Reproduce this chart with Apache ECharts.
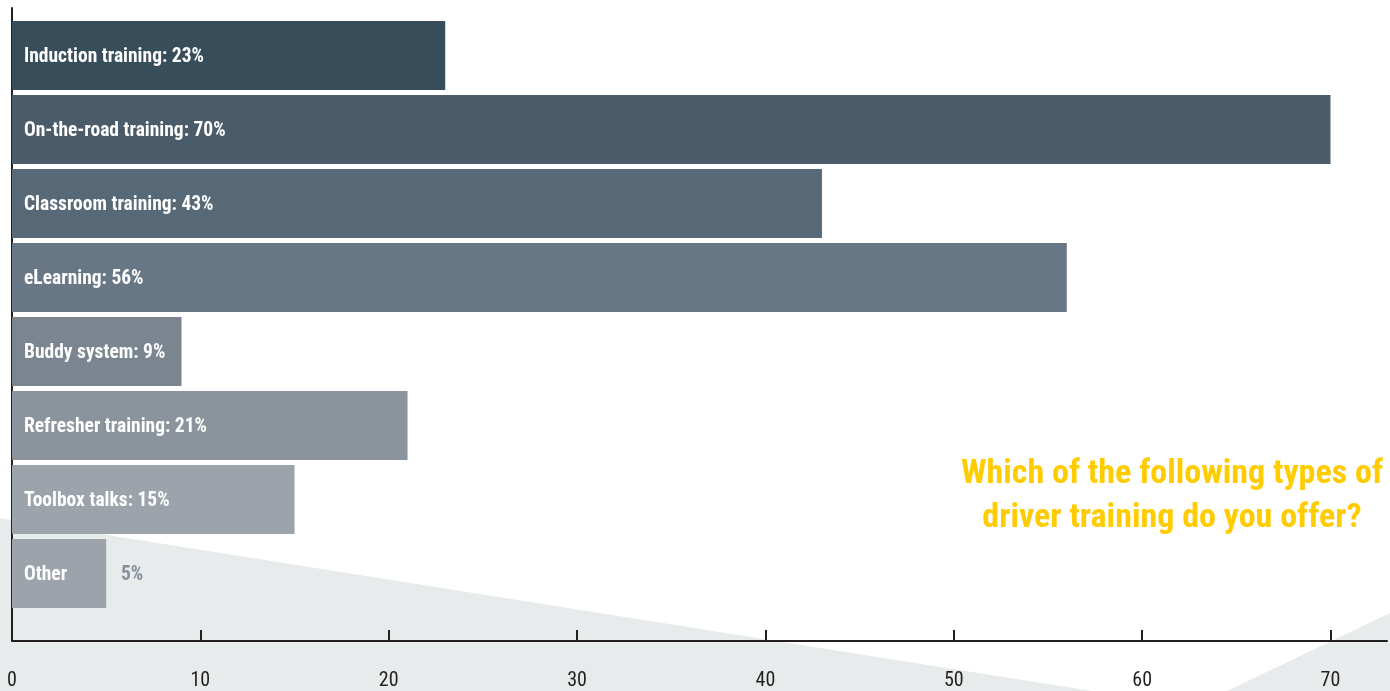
<!DOCTYPE html>
<html>
<head>
<meta charset="utf-8">
<script src="https://cdn.jsdelivr.net/npm/echarts@6/dist/echarts.min.js"></script>
<style>
  html, body { margin: 0; padding: 0; background: #ffffff; }
  #chart { width: 1390px; height: 691px; }
</style>
</head>
<body>
<div id="chart"></div>
<script>
// Survey answers: share of respondents offering each kind of driver training
const categories = [
  'Induction training',
  'On-the-road training',
  'Classroom training',
  'eLearning',
  'Buddy system',
  'Refresher training',
  'Toolbox talks',
  'Other'
];
const shares = [23, 70, 43, 56, 9, 21, 15, 5];
const tickValues = [0, 10, 20, 30, 40, 50, 60, 70];
const titleLines = ['Which of the following types of', 'driver training do you offer?'];

// Slate ramp, darkest bar on top
const barColors = ['#374d5a', '#4a5c6a', '#576877', '#687785', '#7a858f', '#8b949c', '#9ca3ab', '#9ca3ab'];

const FONT = 'Roboto, "Open Sans", sans-serif';
const BOLD_NARROW = 'bold condensed';
const INK = '#231f20';

const chart = echarts.init(document.getElementById('chart'), null, { renderer: 'canvas' });

chart.setOption({
  animation: false,
  backgroundColor: '#ffffff',
  graphic: [
    {
      type: 'polygon', z: -10,
      shape: { points: [[0, 518], [1092, 691], [0, 691]] },
      style: { fill: '#e8ebec' }
    },
    {
      type: 'polygon', z: -10,
      shape: { points: [[1227, 691], [1390, 613], [1390, 691]] },
      style: { fill: '#e8ebec' }
    },
    {
      type: 'text', z: 10,
      style: {
        text: titleLines.join('\n'),
        x: 1172, y: 452,
        align: 'center', verticalAlign: 'top',
        fill: '#ffcc00',
        font: 'bold condensed 34px Roboto, sans-serif',
        lineHeight: 44
      }
    }
  ],
  grid: [
    { left: 12, right: 3, top: 8, bottom: 49 },
    { left: 12, right: 3, top: 18.5, height: 592 }
  ],
  xAxis: [
    {
      gridIndex: 0, type: 'value', min: 0, max: 73, interval: 10,
      axisLine: { show: true, lineStyle: { color: INK, width: 2 } },
      axisTick: {
        show: true, inside: true, length: 11, customValues: tickValues,
        lineStyle: { color: INK, width: 2 }
      },
      axisLabel: {
        customValues: tickValues, margin: 30,
        color: INK, fontSize: 20, fontWeight: 'normal condensed', fontFamily: FONT
      },
      splitLine: { show: false }
    },
    { gridIndex: 1, type: 'value', min: 0, max: 73, show: false }
  ],
  yAxis: [
    {
      gridIndex: 0, type: 'value', min: 0, max: 1,
      axisLine: { show: true, lineStyle: { color: INK, width: 2 } },
      axisTick: { show: false }, axisLabel: { show: false }, splitLine: { show: false }
    },
    { gridIndex: 1, type: 'category', data: categories, inverse: true, show: false }
  ],
  series: [
    {
      type: 'bar',
      xAxisIndex: 1, yAxisIndex: 1,
      barWidth: 69,
      data: shares.map((v, i) => ({ value: v, itemStyle: { color: barColors[i] } })),
      label: {
        show: true,
        position: 'insideLeft',
        distance: 12,
        offset: [0, 2],
        overflow: 'none',
        color: '#ffffff',
        fontSize: 19.5, fontWeight: BOLD_NARROW, fontFamily: FONT,
        formatter: p => p.name === 'Other'
          ? '{name|' + p.name + '}{pct|' + p.value + '%}'
          : p.name + ': ' + p.value + '%',
        rich: {
          name: { width: 97, color: '#ffffff', fontSize: 19.5, fontWeight: BOLD_NARROW, fontFamily: FONT },
          pct: { color: '#87909a', fontSize: 19.5, fontWeight: BOLD_NARROW, fontFamily: FONT }
        }
      }
    }
  ]
});
</script>
</body>
</html>
